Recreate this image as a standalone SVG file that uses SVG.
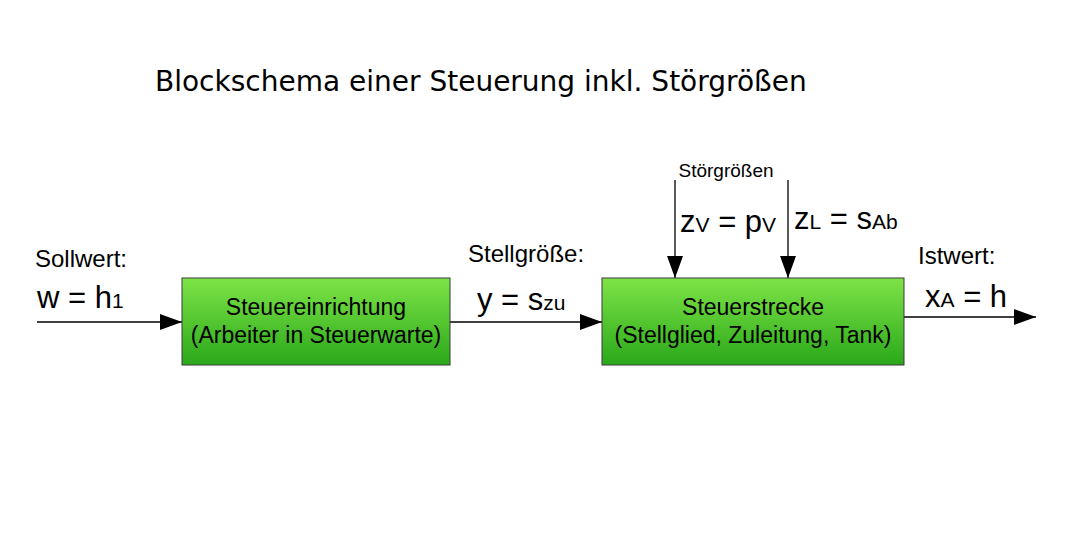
<svg xmlns="http://www.w3.org/2000/svg" width="1074" height="552" viewBox="0 0 1074 552">
<style>
text{font-family:"Liberation Sans",Arial,sans-serif;fill:#000}
.b{stroke:#3a3a3a;stroke-width:1}
.l{stroke:#000;stroke-width:1.3;fill:none}
.bt{font-size:23px;text-anchor:middle}
.lab{font-size:24px}
.eq{font-size:31px}
.s{font-size:21px}
</style>
<defs>
<linearGradient id="g" x1="0" y1="0" x2="0" y2="1"><stop offset="0" stop-color="#7ee447"/><stop offset="1" stop-color="#2aa81a"/></linearGradient>
<marker id="a" markerWidth="22" markerHeight="16" refX="22" refY="8" orient="auto" markerUnits="userSpaceOnUse"><path d="M0,0 L22,8 L0,16 z" fill="#000"/></marker>
</defs>
<rect width="1074" height="552" fill="#fff"/>
<text x="155" y="91" style="font-size:28px;font-family:'DejaVu Sans',sans-serif">Blockschema einer Steuerung inkl. Störgrößen</text>
<g id="connectors">
<line class="l" x1="37" y1="322" x2="182" y2="322" marker-end="url(#a)"/>
<line class="l" x1="450" y1="322" x2="602" y2="322" marker-end="url(#a)"/>
<line class="l" x1="904" y1="317" x2="1036" y2="317" marker-end="url(#a)"/>
<line class="l" x1="675" y1="180" x2="675" y2="278" marker-end="url(#a)"/>
<line class="l" x1="788" y1="180" x2="788" y2="278" marker-end="url(#a)"/>
</g>
<g id="n1"><rect class="b" x="182" y="278" width="268" height="87" fill="url(#g)"/>
<text class="bt" x="316" y="315">Steuereinrichtung</text><text class="bt" x="316" y="343">(Arbeiter in Steuerwarte)</text></g>
<g id="n2"><rect class="b" x="602" y="278" width="302" height="87" fill="url(#g)"/>
<text class="bt" x="753" y="315">Steuerstrecke</text><text class="bt" x="753" y="343">(Stellglied, Zuleitung, Tank)</text></g>
<g id="labels">
<text class="lab" x="35" y="267">Sollwert:</text>
<text class="eq" x="37" y="308">w = h<tspan class="s">1</tspan></text>
<text class="lab" x="468" y="262">Stellgröße:</text>
<text class="eq" x="477" y="310">y = s<tspan class="s">zu</tspan></text>
<text class="lab" x="918" y="264">Istwert:</text>
<text class="eq" x="925" y="307">x<tspan class="s">A</tspan> = h</text>
<text x="726" y="177" style="font-size:19px;text-anchor:middle">Störgrößen</text>
<text class="eq" x="680" y="232">z<tspan class="s">V</tspan> = p<tspan class="s">V</tspan></text>
<text class="eq" x="794" y="229">z<tspan class="s">L</tspan> = s<tspan class="s">Ab</tspan></text>
</g>
</svg>
